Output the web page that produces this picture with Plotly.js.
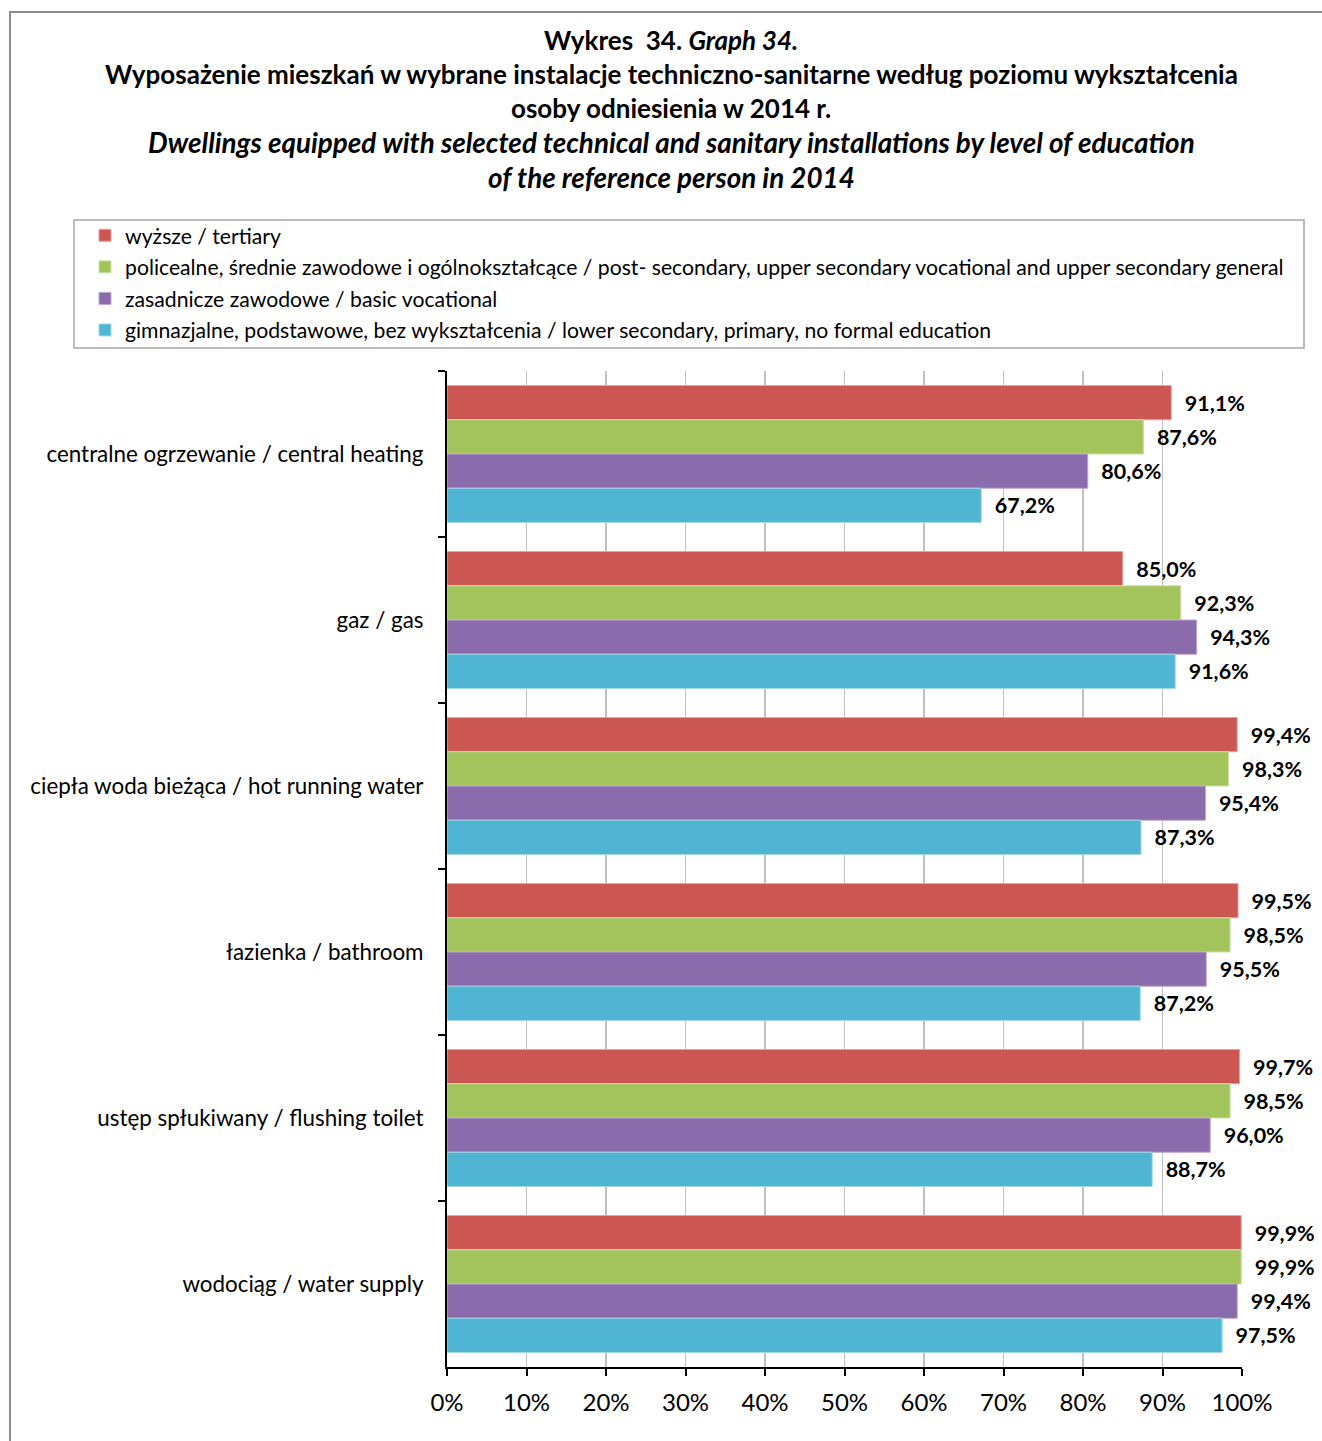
<!DOCTYPE html>
<html>
<head>
<meta charset="utf-8">
<script src="https://cdn.plot.ly/plotly-3.0.1.min.js"></script>
<style>
html,body{margin:0;padding:0;background:#fff;}
#chart{width:1322px;height:1441px;}
</style>
</head>
<body>
<div id="chart"></div>
<script>
const categories = [
  "centralne ogrzewanie / central heating",
  "gaz / gas",
  "ciepła woda bieżąca / hot running water",
  "łazienka / bathroom",
  "ustęp spłukiwany / flushing toilet",
  "wodociąg / water supply"
];
const seriesNames = [
  "wyższe / tertiary",
  "policealne, średnie zawodowe i ogólnokształcące / post- secondary, upper secondary vocational and upper secondary general",
  "zasadnicze zawodowe / basic vocational",
  "gimnazjalne, podstawowe, bez wykształcenia / lower secondary, primary, no formal education"
];
const tertiary = [91.1, 85.0, 99.4, 99.5, 99.7, 99.9];
const postSecondary = [87.6, 92.3, 98.3, 98.5, 98.5, 99.9];
const basicVocational = [80.6, 94.3, 95.4, 95.5, 96.0, 99.4];
const lowerSecondary = [67.2, 91.6, 87.3, 87.2, 88.7, 97.5];
const xTickVals = [0,10,20,30,40,50,60,70,80,90,100];
const xTickText = ["0%","10%","20%","30%","40%","50%","60%","70%","80%","90%","100%"];
const colors = ["#CC5652", "#A3C45D", "#8A6BAC", "#4FB5D3"];
const lineColors = ["#E3A3A1", "#CDE0A8", "#BBA7D0", "#A3D8E8"];

const FONT = "Lato, 'Open Sans', sans-serif";
const W = 1322, H = 1441;
const L = 447, R = 1242, T = 371, B = 1367;
const xp = px => (px - L) / (R - L);
const yp = py => (B - py) / (B - T);

const allSeries = [tertiary, postSecondary, basicVocational, lowerSecondary];
const fmt = v => "\u00a0\u00a0" + v.toFixed(1).replace(".", ",") + "%";

const traces = allSeries.map((vals, i) => ({
  type: "bar",
  orientation: "h",
  name: seriesNames[i],
  y: categories,
  x: vals,
  text: vals.map(fmt),
  textposition: "outside",
  cliponaxis: false,
  constraintext: "none",
  textfont: {family: FONT, size: 21.5, color: "#000", weight: 700},
  marker: {color: colors[i], line: {color: lineColors[i], width: 1}},
  legendgroup: "g" + i,
  hoverinfo: "skip"
}));

const titleLines = [
  {t: "<b>Wykres  34. <i>Graph 34.</i></b>", y: 40, s: 26},
  {t: "<b>Wyposażenie mieszkań w wybrane instalacje techniczno-sanitarne według poziomu wykształcenia</b>", y: 74, s: 26},
  {t: "<b>osoby odniesienia w 2014 r.</b>", y: 108, s: 26},
  {t: "<b><i>Dwellings equipped with selected technical and sanitary installations by level of education</i></b>", y: 142, s: 27.8},
  {t: "<b><i>of the reference person in 2014</i></b>", y: 177, s: 27.8}
];

const annotations = titleLines.map(l => ({
  xref: "paper", yref: "paper",
  x: xp(671), y: yp(l.y),
  xanchor: "center", yanchor: "middle",
  text: l.t, showarrow: false,
  font: {family: FONT, size: l.s, color: "#000"}
}));

const layout = {
  width: W, height: H,
  margin: {l: L, r: W - R, t: T, b: H - B, pad: 0},
  paper_bgcolor: "#fff",
  plot_bgcolor: "#fff",
  barmode: "group",
  bargap: 0.175,
  bargroupgap: 0,
  showlegend: true,
  legend: {
    x: xp(85), y: yp(215), xanchor: "left", yanchor: "top",
    orientation: "v",
    traceorder: "grouped",
    tracegroupgap: 1,
    font: {family: FONT, size: 21.2, color: "#000"},
    bgcolor: "rgba(0,0,0,0)", borderwidth: 0
  },
  xaxis: {
    range: [0, 100],
    tickvals: xTickVals,
    ticktext: xTickText,
    showgrid: true,
    gridcolor: "#C0C0C0",
    gridwidth: 1.5,
    zeroline: false,
    showline: true,
    linecolor: "#000",
    linewidth: 2,
    ticks: "outside",
    ticklen: 7,
    tickwidth: 2,
    tickcolor: "#000",
    tickfont: {family: FONT, size: 24, color: "#000"},
    ticklabelstandoff: 6,
    fixedrange: true
  },
  yaxis: {
    type: "category",
    autorange: "reversed",
    showgrid: false,
    zeroline: false,
    showline: true,
    linecolor: "#000",
    linewidth: 2,
    ticks: "outside",
    tickson: "boundaries",
    ticklen: 7,
    tickwidth: 2,
    tickcolor: "#000",
    tickfont: {family: FONT, size: 22.4, color: "#000"},
    ticklabelstandoff: 17,
    fixedrange: true
  },
  shapes: [
    {type: "rect", xref: "paper", yref: "paper",
     x0: xp(10), x1: xp(1340), y0: yp(12), y1: yp(1460),
     line: {color: "#8C8C8C", width: 2}, fillcolor: "rgba(0,0,0,0)", layer: "below"},
    {type: "rect", xref: "paper", yref: "paper",
     x0: xp(74), x1: xp(1304), y0: yp(220), y1: yp(348),
     line: {color: "#A6A6A6", width: 1.5}, fillcolor: "rgba(0,0,0,0)", layer: "below"}
  ],
  annotations: annotations
};

Plotly.newPlot("chart", traces, layout, {displayModeBar: false, staticPlot: true});
</script>
</body>
</html>
